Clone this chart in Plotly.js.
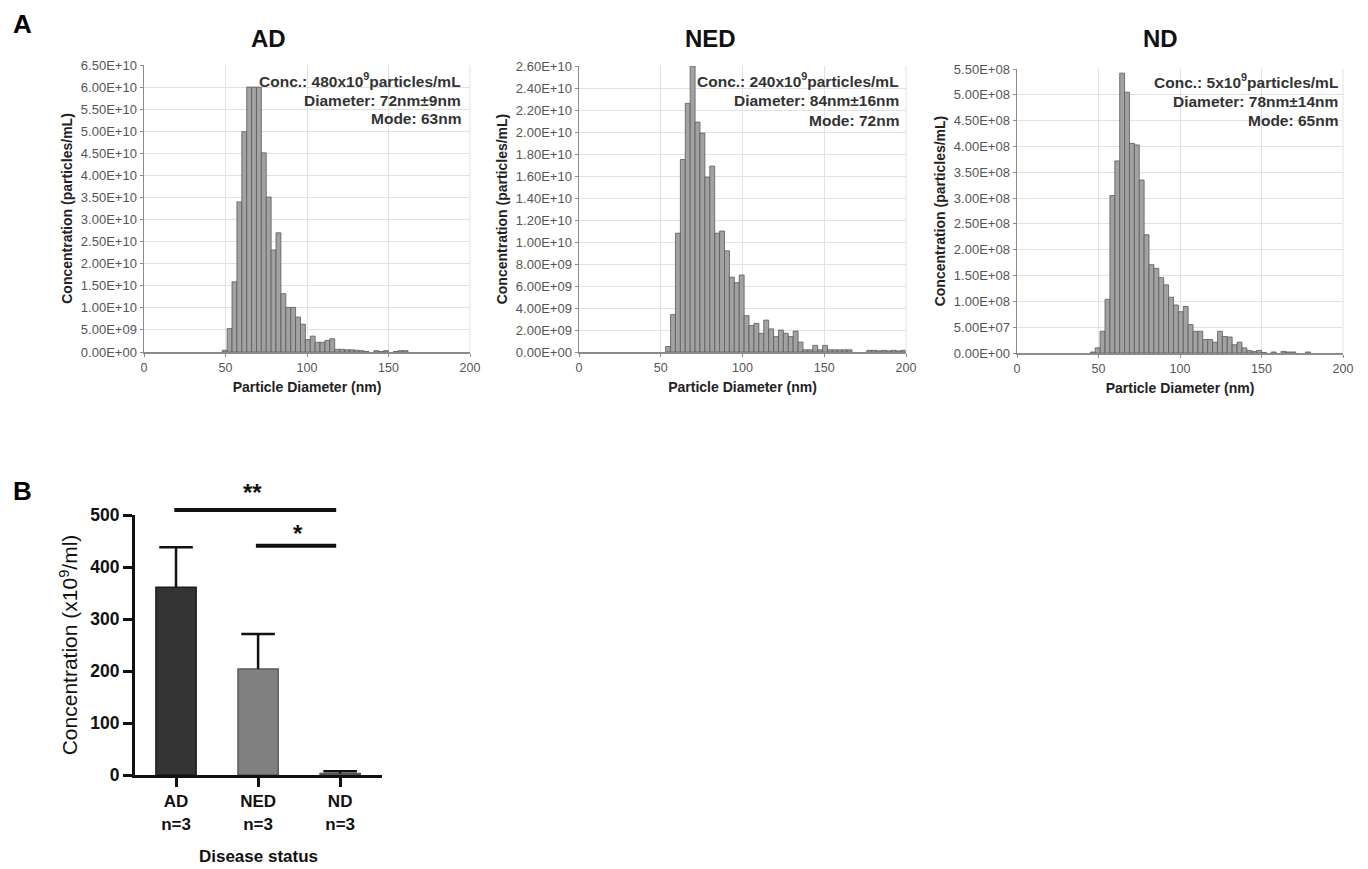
<!DOCTYPE html>
<html>
<head>
<meta charset="utf-8">
<script src="https://cdn.plot.ly/plotly-3.0.1.min.js"></script>
<style>html,body{margin:0;padding:0;background:#fff;}#chart{width:1368px;height:869px;}</style>
</head>
<body>
<div id="chart"></div>
<script>
// ---------- Panel A data (NTA size distributions, 3 nm bins) ----------
const AD_diam = [49.5,52.5,55.5,58.5,61.5,64.5,67.5,70.5,73.5,76.5,79.5,82.5,85.5,88.5,91.5,94.5,97.5,100.5,103.5,106.5,109.5,112.5,115.5,118.5,121.5,124.5,127.5,130.5,133.5,136.5,142.5,145.5,148.5,154.5,157.5,160.5];
const AD_conc = [0.04e10,0.53e10,1.59e10,3.40e10,4.99e10,6.00e10,6.00e10,6.00e10,4.51e10,3.51e10,2.31e10,2.70e10,1.32e10,1.01e10,1.01e10,0.79e10,0.63e10,0.28e10,0.36e10,0.22e10,0.22e10,0.26e10,0.30e10,0.06e10,0.06e10,0.05e10,0.05e10,0.04e10,0.03e10,0.01e10,0.03e10,0.01e10,0.03e10,0.01e10,0.03e10,0.03e10];

const NED_diam = [54.5,57.5,60.5,63.5,66.5,69.5,72.5,75.5,78.5,81.5,84.5,87.5,90.5,93.5,96.5,99.5,102.5,105.5,108.5,111.5,114.5,117.5,120.5,123.5,126.5,129.5,132.5,135.5,138.5,141.5,144.5,147.5,150.5,153.5,156.5,159.5,162.5,165.5,177.5,180.5,183.5,186.5,189.5,192.5,195.5,198.5];
const NED_conc = [0.05e10,0.34e10,1.08e10,1.75e10,2.26e10,2.60e10,2.09e10,1.99e10,1.59e10,1.69e10,1.08e10,1.10e10,0.92e10,0.68e10,0.63e10,0.70e10,0.33e10,0.24e10,0.26e10,0.17e10,0.29e10,0.21e10,0.14e10,0.20e10,0.17e10,0.14e10,0.19e10,0.09e10,0.02e10,0.02e10,0.06e10,0.02e10,0.06e10,0.02e10,0.02e10,0.02e10,0.02e10,0.02e10,0.015e10,0.015e10,0.01e10,0.015e10,0.01e10,0.015e10,0.01e10,0.015e10];

const ND_diam = [46.5,49.5,52.5,55.5,58.5,61.5,64.5,67.5,70.5,73.5,76.5,79.5,82.5,85.5,88.5,91.5,94.5,97.5,100.5,103.5,106.5,109.5,112.5,115.5,118.5,121.5,124.5,127.5,130.5,133.5,136.5,139.5,142.5,145.5,148.5,151.5,157.5,163.5,166.5,169.5,178.5];
const ND_conc = [0.02e8,0.10e8,0.42e8,1.04e8,3.05e8,3.72e8,5.42e8,5.05e8,4.06e8,4.03e8,3.35e8,2.29e8,1.71e8,1.64e8,1.46e8,1.32e8,1.08e8,0.93e8,0.80e8,0.90e8,0.55e8,0.42e8,0.42e8,0.26e8,0.26e8,0.21e8,0.42e8,0.32e8,0.31e8,0.16e8,0.21e8,0.10e8,0.05e8,0.03e8,0.05e8,0.01e8,0.02e8,0.03e8,0.02e8,0.02e8,0.02e8];

const AD_ytick = [0,0.5e10,1.0e10,1.5e10,2.0e10,2.5e10,3.0e10,3.5e10,4.0e10,4.5e10,5.0e10,5.5e10,6.0e10,6.5e10];
const AD_ytext = ['0.00E+00','5.00E+09','1.00E+10','1.50E+10','2.00E+10','2.50E+10','3.00E+10','3.50E+10','4.00E+10','4.50E+10','5.00E+10','5.50E+10','6.00E+10','6.50E+10'];
const NED_ytick = [0,0.2e10,0.4e10,0.6e10,0.8e10,1.0e10,1.2e10,1.4e10,1.6e10,1.8e10,2.0e10,2.2e10,2.4e10,2.6e10];
const NED_ytext = ['0.00E+00','2.00E+09','4.00E+09','6.00E+09','8.00E+09','1.00E+10','1.20E+10','1.40E+10','1.60E+10','1.80E+10','2.00E+10','2.20E+10','2.40E+10','2.60E+10'];
const ND_ytick = [0,0.5e8,1.0e8,1.5e8,2.0e8,2.5e8,3.0e8,3.5e8,4.0e8,4.5e8,5.0e8,5.5e8];
const ND_ytext = ['0.00E+00','5.00E+07','1.00E+08','1.50E+08','2.00E+08','2.50E+08','3.00E+08','3.50E+08','4.00E+08','4.50E+08','5.00E+08','5.50E+08'];
const A_xtick = [0,50,100,150,200];

const A_titles = ['AD','NED','ND'];
const A_conc = ['480','240','5'];
const A_diameter = ['72nm±9nm','84nm±16nm','78nm±14nm'];
const A_mode = ['63nm','72nm','65nm'];

// ---------- Panel B data ----------
const B_groups = ['AD','NED','ND'];
const B_n = [3,3,3];
const B_mean = [361,204,3];
const B_sem = [77,67,4];

// ---------- helpers ----------
const W = 1368, H = 869;
const FONT = 'Liberation Sans, Arial, Helvetica, sans-serif';
const px = v => v / W;
const py = v => 1 - v / H;

const histBox = [
  {l:144, r:470, t:65, b:352},
  {l:579, r:906, t:66, b:352},
  {l:1017, r:1343, t:69, b:353}
];
const histData = [[AD_diam, AD_conc],[NED_diam, NED_conc],[ND_diam, ND_conc]];
const histY = [[AD_ytick, AD_ytext, 6.5e10],[NED_ytick, NED_ytext, 2.6e10],[ND_ytick, ND_ytext, 5.5e8]];

const traces = [];
const layout = {
  width: W, height: H,
  margin: {l:0, r:0, t:0, b:0},
  paper_bgcolor: '#fff', plot_bgcolor: '#fff',
  showlegend: false,
  font: {family: FONT, color: '#222'},
  bargap: 0,
  annotations: [], shapes: []
};

histData.forEach((d, i) => {
  const k = i + 1;
  const xs = k === 1 ? 'x' : 'x' + k, ys = k === 1 ? 'y' : 'y' + k;
  const xa = k === 1 ? 'xaxis' : 'xaxis' + k, ya = k === 1 ? 'yaxis' : 'yaxis' + k;
  const b = histBox[i];
  traces.push({
    type: 'bar', x: d[0], y: d[1], width: 3,
    xaxis: xs, yaxis: ys,
    marker: {color: '#a2a2a2', line: {color: '#5a5a5a', width: 0.8}},
    hoverinfo: 'x+y'
  });
  layout[xa] = {
    domain: [px(b.l), px(b.r)], anchor: ys, range: [0, 200],
    tickvals: A_xtick, ticktext: A_xtick.map(String),
    showgrid: true, gridcolor: '#e2e2e2', gridwidth: 1, zeroline: false,
    showline: true, linecolor: '#8c8c8c', linewidth: 1.5,
    ticks: 'outside', ticklen: 3, tickcolor: '#8c8c8c',
    tickfont: {family: FONT, size: 12.5, color: '#555'},
    title: {text: 'Particle Diameter (nm)', font: {family: FONT, size: 14, weight: 'bold', color: '#222'}, standoff: 8},
    fixedrange: true
  };
  layout[ya] = {
    domain: [py(b.b), py(b.t)], anchor: xs, range: [0, histY[i][2]],
    tickvals: histY[i][0], ticktext: histY[i][1],
    showgrid: true, gridcolor: '#e2e2e2', gridwidth: 1, zeroline: false,
    showline: true, linecolor: '#8c8c8c', linewidth: 1.5,
    ticks: 'outside', ticklen: 3, tickcolor: '#8c8c8c',
    tickfont: {family: FONT, size: 13, color: '#555'},
    title: {text: 'Concentration (particles/mL)', font: {family: FONT, size: 14, weight: 'bold', color: '#222'}, standoff: 5},
    fixedrange: true
  };
  // right border (200 nm gridline edge)
  layout.shapes.push({type: 'line', xref: xs + ' domain', yref: ys + ' domain', x0: 1, x1: 1, y0: 0, y1: 1, line: {color: '#e2e2e2', width: 1}});
  // title
  const titleX = [268, 710, 1160][i];
  layout.annotations.push({text: '<b>' + A_titles[i] + '</b>', xref: 'paper', yref: 'paper', x: px(titleX), y: py(38), xanchor: 'center', yanchor: 'middle', showarrow: false, font: {family: FONT, size: 24, color: '#111'}});
  // stats text
  const rightX = [463, 901, 1340][i];
  const lines = ['Conc.: ' + A_conc[i] + 'x10<sup>9</sup>particles/mL', 'Diameter: ' + A_diameter[i], 'Mode: ' + A_mode[i]];
  const lineY = [[80,100,119],[80,100,120],[81,101,121]][i];
  lines.forEach((t, j) => {
    layout.annotations.push({text: '<b>' + t + '</b>', xref: 'paper', yref: 'paper', x: px(rightX), y: py(lineY[j]), xanchor: 'right', yanchor: 'middle', showarrow: false, font: {family: FONT, size: 15.5, color: '#333'}});
  });
});

// ---------- Panel B ----------
traces.push({
  type: 'bar', x: B_groups, y: B_mean, width: 0.49,
  xaxis: 'x4', yaxis: 'y4',
  marker: {color: ['#333333', '#808080', '#d9d9d9'], line: {color: ['#1c1c1c', '#5a5a5a', '#555555'], width: 1.5}},
  error_y: {type: 'data', symmetric: false, array: B_sem, arrayminus: B_mean.map(() => 0), color: '#111', thickness: 2.5, width: 0},
  cliponaxis: false
});
// error-bar caps (top end only, as in the reference)
traces.push({
  type: 'scatter', mode: 'markers', x: B_groups, y: B_mean.map((m, i) => m + B_sem[i]),
  xaxis: 'x4', yaxis: 'y4', cliponaxis: false, hoverinfo: 'skip',
  marker: {symbol: 'line-ew', size: 24, color: '#111', line: {color: '#111', width: 2.5}}
});
layout.xaxis4 = {
  domain: [px(135), px(382)], anchor: 'y4', type: 'category', range: [-0.5, 2.51],
  tickvals: B_groups, ticktext: B_groups.map((g, i) => g + '<br>n=' + B_n[i]),
  showline: true, linecolor: '#111', linewidth: 3,
  ticks: 'outside', ticklen: 9, tickwidth: 3, tickcolor: '#111',
  tickfont: {family: FONT, size: 17, weight: 'bold', color: '#111'},
  showgrid: false, zeroline: false,
  title: {text: 'Disease status', font: {family: FONT, size: 17, weight: 'bold', color: '#111'}, standoff: 18},
  fixedrange: true
};
layout.yaxis4 = {
  domain: [py(775), py(515)], anchor: 'x4', range: [0, 500],
  tickvals: [0, 100, 200, 300, 400, 500],
  showline: true, linecolor: '#111', linewidth: 3,
  ticks: 'outside', ticklen: 9, tickwidth: 3, tickcolor: '#111',
  tickfont: {family: FONT, size: 17.5, weight: 'bold', color: '#111'},
  showgrid: false, zeroline: false,
  title: {text: 'Concentration (x10<sup>9</sup>/ml)', font: {family: FONT, size: 21, color: '#111'}, standoff: 7},
  fixedrange: true
};
// significance brackets (x as fraction of the category axis, y as fraction of the 0-500 axis)
const catFrac = idx => (idx + 0.5) / 3.01;
layout.shapes.push({type: 'line', xref: 'x4 domain', yref: 'y4 domain', x0: catFrac(0) - 0.007, x1: catFrac(2) - 0.016, y0: 1.019, y1: 1.019, line: {color: '#111', width: 4}});
layout.shapes.push({type: 'line', xref: 'x4 domain', yref: 'y4 domain', x0: catFrac(1) - 0.009, x1: catFrac(2) - 0.016, y0: 0.882, y1: 0.882, line: {color: '#111', width: 4}});
layout.annotations.push({text: '<b>**</b>', xref: 'x4 domain', yref: 'y4 domain', x: 0.475, y: 1.085, xanchor: 'center', yanchor: 'middle', showarrow: false, font: {family: FONT, size: 24, color: '#111'}});
layout.annotations.push({text: '<b>*</b>', xref: 'x4 domain', yref: 'y4 domain', x: 0.66, y: 0.93, xanchor: 'center', yanchor: 'middle', showarrow: false, font: {family: FONT, size: 24, color: '#111'}});

// panel letters
layout.annotations.push({text: '<b>A</b>', xref: 'paper', yref: 'paper', x: px(22), y: py(24), xanchor: 'center', yanchor: 'middle', showarrow: false, font: {family: FONT, size: 26, color: '#000'}});
layout.annotations.push({text: '<b>B</b>', xref: 'paper', yref: 'paper', x: px(22), y: py(491), xanchor: 'center', yanchor: 'middle', showarrow: false, font: {family: FONT, size: 26, color: '#000'}});

Plotly.newPlot('chart', traces, layout, {displayModeBar: false, staticPlot: true});
</script>
</body>
</html>
